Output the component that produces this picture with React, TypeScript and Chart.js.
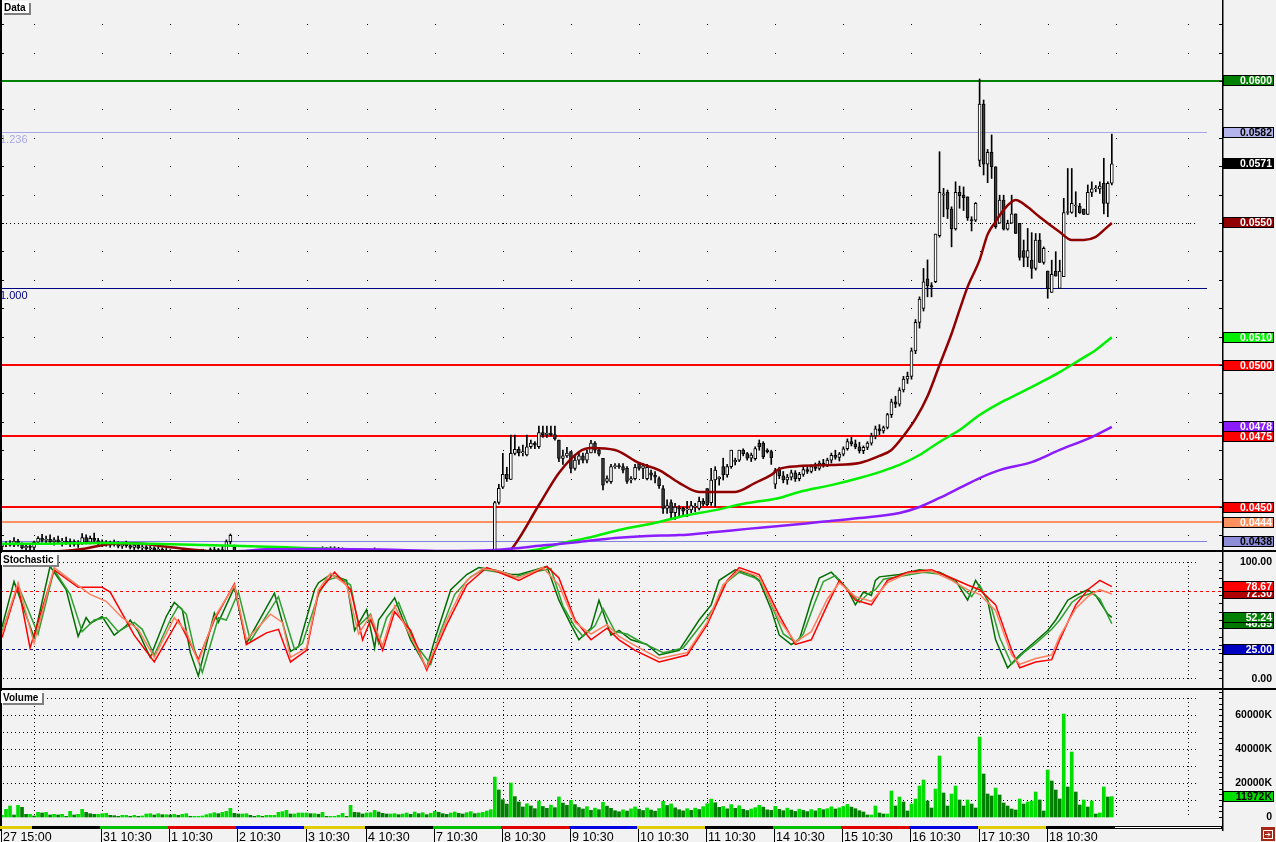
import { useEffect, useRef } from 'react';
import { Chart, registerables } from 'chart.js';

Chart.register(...registerables);

// ---------------- sessions / time axis ----------------
const SESSION_DAYS = ['27', '28', '31', '1', '2', '3', '4', '7', '8', '9', '10', '11', '14', '15', '16', '17', '18'];
const SESSION_FIRST_TIME = ['15:00', '10:30', '10:30', '10:30', '10:30', '10:30', '10:30', '10:30', '10:30', '10:30', '10:30', '10:30', '10:30', '10:30', '10:30', '10:30', '10:30'];
const SESSION_BARS = [8, 17, 17, 17, 17, 15, 17, 17, 17, 17, 17, 17, 17, 17, 17, 17, 17];
const AXIS_LABELS = ['27 15:00', '31 10:30', '1 10:30', '2 10:30', '3 10:30', '4 10:30', '7 10:30', '8 10:30', '9 10:30', '10 10:30', '11 10:30', '14 10:30', '15 10:30', '16 10:30', '17 10:30', '18 10:30'];
const STRIP_COLORS = ['#e0cc00', '#000000', '#00c000', '#e00000', '#0000e0'];
const FUTURE_SLOTS = 27;
const FUTURE_GRID = [278, 296];

// ---------------- price (OHLC) ----------------
const OPEN = [
  0.04360, 0.04368, 0.04372, 0.04366, 0.04380, 0.04368, 0.04356, 0.04362,
  0.04358, 0.04376, 0.04390, 0.04382, 0.04386, 0.04378, 0.04384, 0.04376, 0.04380, 0.04372, 0.04378, 0.04368, 0.04374, 0.04392, 0.04376, 0.04390, 0.04382,
  0.04370, 0.04376, 0.04366, 0.04372, 0.04368, 0.04362, 0.04370, 0.04364, 0.04358, 0.04366, 0.04356, 0.04360, 0.04352, 0.04356, 0.04348, 0.04352, 0.04344,
  0.04340, 0.04336, 0.04332, 0.04338, 0.04334, 0.04330, 0.04326, 0.04332, 0.04328, 0.04330, 0.04340, 0.04350, 0.04344, 0.04350, 0.04346, 0.04378, 0.04360,
  0.04336, 0.04326, 0.04330, 0.04322, 0.04328, 0.04320, 0.04324, 0.04318, 0.04326, 0.04322, 0.04316, 0.04320, 0.04326, 0.04330, 0.04324, 0.04328, 0.04322,
  0.04326, 0.04330, 0.04336, 0.04340, 0.04344, 0.04352, 0.04346, 0.04354, 0.04348, 0.04352, 0.04340, 0.04332, 0.04326, 0.04320, 0.04326,
  0.04330, 0.04336, 0.04344, 0.04340, 0.04334, 0.04328, 0.04322, 0.04326, 0.04318, 0.04322, 0.04316, 0.04320, 0.04314, 0.04318, 0.04312, 0.04316, 0.04310,
  0.04314, 0.04308, 0.04312, 0.04306, 0.04310, 0.04304, 0.04308, 0.04302, 0.04306, 0.04300, 0.04304, 0.04298, 0.04302, 0.04296, 0.04300, 0.04304, 0.04516,
  0.04570, 0.04615, 0.04597, 0.04689, 0.04703, 0.04690, 0.04683, 0.04712, 0.04725, 0.04712, 0.04762, 0.04755, 0.04760, 0.04755, 0.04736, 0.04671, 0.04680,
  0.04695, 0.04636, 0.04665, 0.04680, 0.04665, 0.04690, 0.04725, 0.04700, 0.04671, 0.04590, 0.04589, 0.04642, 0.04646, 0.04642, 0.04636, 0.04595, 0.04600,
  0.04653, 0.04636, 0.04600, 0.04620, 0.04612, 0.04600, 0.04565, 0.04495, 0.04516, 0.04480, 0.04495, 0.04495, 0.04490, 0.04490, 0.04500, 0.04495, 0.04520,
  0.04565, 0.04515, 0.04595, 0.04600, 0.04642, 0.04613, 0.04642, 0.04660, 0.04665, 0.04700, 0.04688, 0.04672, 0.04670, 0.04724, 0.04724, 0.04700, 0.04695,
  0.04580, 0.04630, 0.04610, 0.04595, 0.04605, 0.04620, 0.04600, 0.04615, 0.04632, 0.04625, 0.04642, 0.04636, 0.04655, 0.04648, 0.04665, 0.04682, 0.04675,
  0.04686, 0.04705, 0.04730, 0.04722, 0.04712, 0.04698, 0.04710, 0.04725, 0.04750, 0.04775, 0.04768, 0.04780, 0.04825, 0.04870, 0.04862, 0.04912, 0.04950,
  0.04960, 0.05050, 0.05150, 0.05199, 0.05303, 0.05280, 0.05293, 0.05455, 0.05598, 0.05608, 0.05549, 0.05479, 0.05608, 0.05598, 0.05592, 0.05512, 0.05510,
  0.05720, 0.05919, 0.05707, 0.05749, 0.05698, 0.05499, 0.05581, 0.05478, 0.05499, 0.05532, 0.05499, 0.05403, 0.05379, 0.05369, 0.05340, 0.05440, 0.05361,
  0.05331, 0.05256, 0.05331, 0.05270, 0.05311, 0.05537, 0.05537, 0.05560, 0.05560, 0.05549, 0.05530, 0.05608, 0.05620, 0.05620, 0.05640, 0.05569, 0.05640,
];
const HIGH = [
  0.04372, 0.04378, 0.04382, 0.04392, 0.04386, 0.04374, 0.04366, 0.04368,
  0.04380, 0.04396, 0.04404, 0.04398, 0.04402, 0.04392, 0.04398, 0.04390, 0.04394, 0.04388, 0.04384, 0.04382, 0.04406, 0.04402, 0.04398, 0.04408, 0.04390,
  0.04384, 0.04382, 0.04380, 0.04384, 0.04378, 0.04376, 0.04380, 0.04374, 0.04372, 0.04370, 0.04366, 0.04364, 0.04362, 0.04360, 0.04358, 0.04356, 0.04354,
  0.04350, 0.04346, 0.04344, 0.04352, 0.04342, 0.04340, 0.04338, 0.04340, 0.04336, 0.04346, 0.04356, 0.04358, 0.04354, 0.04362, 0.04384, 0.04405, 0.04366,
  0.04344, 0.04338, 0.04340, 0.04334, 0.04336, 0.04330, 0.04334, 0.04330, 0.04336, 0.04332, 0.04328, 0.04332, 0.04338, 0.04340, 0.04336, 0.04338, 0.04334,
  0.04338, 0.04342, 0.04348, 0.04352, 0.04360, 0.04358, 0.04360, 0.04360, 0.04358, 0.04356, 0.04348, 0.04340, 0.04336, 0.04332, 0.04338,
  0.04342, 0.04350, 0.04356, 0.04352, 0.04344, 0.04338, 0.04334, 0.04336, 0.04330, 0.04332, 0.04328, 0.04330, 0.04326, 0.04328, 0.04324, 0.04326, 0.04322,
  0.04324, 0.04320, 0.04322, 0.04318, 0.04320, 0.04316, 0.04318, 0.04314, 0.04316, 0.04312, 0.04314, 0.04310, 0.04312, 0.04308, 0.04310, 0.04520, 0.04580,
  0.04689, 0.04640, 0.04753, 0.04753, 0.04712, 0.04718, 0.04753, 0.04736, 0.04730, 0.04785, 0.04785, 0.04785, 0.04785, 0.04785, 0.04736, 0.04700, 0.04710,
  0.04695, 0.04680, 0.04690, 0.04690, 0.04700, 0.04735, 0.04730, 0.04710, 0.04671, 0.04610, 0.04650, 0.04653, 0.04653, 0.04653, 0.04642, 0.04607, 0.04650,
  0.04653, 0.04653, 0.04650, 0.04630, 0.04625, 0.04606, 0.04575, 0.04525, 0.04525, 0.04513, 0.04505, 0.04500, 0.04520, 0.04520, 0.04513, 0.04535, 0.04530,
  0.04565, 0.04636, 0.04642, 0.04607, 0.04672, 0.04650, 0.04700, 0.04672, 0.04700, 0.04705, 0.04692, 0.04690, 0.04712, 0.04736, 0.04730, 0.04705, 0.04700,
  0.04636, 0.04640, 0.04625, 0.04615, 0.04630, 0.04628, 0.04622, 0.04640, 0.04645, 0.04648, 0.04655, 0.04662, 0.04668, 0.04672, 0.04690, 0.04700, 0.04692,
  0.04712, 0.04740, 0.04745, 0.04736, 0.04728, 0.04715, 0.04730, 0.04760, 0.04785, 0.04790, 0.04785, 0.04830, 0.04880, 0.04890, 0.04920, 0.04960, 0.04975,
  0.05060, 0.05160, 0.05240, 0.05340, 0.05370, 0.05290, 0.05461, 0.05751, 0.05622, 0.05616, 0.05557, 0.05645, 0.05630, 0.05627, 0.05592, 0.05522, 0.05572,
  0.06007, 0.05933, 0.05759, 0.05810, 0.05698, 0.05598, 0.05598, 0.05510, 0.05598, 0.05532, 0.05499, 0.05440, 0.05481, 0.05466, 0.05463, 0.05463, 0.05416,
  0.05331, 0.05369, 0.05399, 0.05369, 0.05587, 0.05692, 0.05692, 0.05610, 0.05569, 0.05549, 0.05634, 0.05645, 0.05632, 0.05645, 0.05728, 0.05645, 0.05813,
];
const LOW = [
  0.04350, 0.04360, 0.04362, 0.04360, 0.04362, 0.04352, 0.04345, 0.04350,
  0.04350, 0.04370, 0.04376, 0.04372, 0.04374, 0.04366, 0.04372, 0.04362, 0.04368, 0.04360, 0.04362, 0.04358, 0.04368, 0.04370, 0.04370, 0.04376, 0.04364,
  0.04360, 0.04362, 0.04358, 0.04362, 0.04356, 0.04354, 0.04358, 0.04352, 0.04350, 0.04352, 0.04346, 0.04346, 0.04342, 0.04340, 0.04338, 0.04336, 0.04334,
  0.04330, 0.04326, 0.04322, 0.04330, 0.04324, 0.04320, 0.04318, 0.04322, 0.04318, 0.04324, 0.04334, 0.04338, 0.04336, 0.04340, 0.04340, 0.04370, 0.04330,
  0.04320, 0.04316, 0.04318, 0.04312, 0.04316, 0.04310, 0.04314, 0.04308, 0.04316, 0.04312, 0.04306, 0.04310, 0.04316, 0.04318, 0.04314, 0.04316, 0.04312,
  0.04316, 0.04320, 0.04326, 0.04330, 0.04336, 0.04338, 0.04340, 0.04342, 0.04338, 0.04334, 0.04326, 0.04318, 0.04314, 0.04310, 0.04316,
  0.04320, 0.04328, 0.04334, 0.04330, 0.04322, 0.04316, 0.04312, 0.04314, 0.04306, 0.04310, 0.04304, 0.04308, 0.04302, 0.04306, 0.04300, 0.04304, 0.04298,
  0.04302, 0.04296, 0.04300, 0.04294, 0.04298, 0.04292, 0.04296, 0.04290, 0.04294, 0.04288, 0.04292, 0.04286, 0.04290, 0.04284, 0.04288, 0.04300, 0.04510,
  0.04565, 0.04590, 0.04597, 0.04683, 0.04680, 0.04680, 0.04680, 0.04706, 0.04705, 0.04706, 0.04745, 0.04745, 0.04750, 0.04735, 0.04660, 0.04650, 0.04675,
  0.04620, 0.04630, 0.04650, 0.04655, 0.04655, 0.04690, 0.04690, 0.04680, 0.04560, 0.04585, 0.04583, 0.04636, 0.04636, 0.04620, 0.04583, 0.04585, 0.04595,
  0.04630, 0.04600, 0.04595, 0.04595, 0.04585, 0.04565, 0.04477, 0.04477, 0.04456, 0.04456, 0.04466, 0.04466, 0.04466, 0.04480, 0.04483, 0.04490, 0.04505,
  0.04505, 0.04506, 0.04500, 0.04577, 0.04595, 0.04605, 0.04636, 0.04648, 0.04660, 0.04680, 0.04665, 0.04660, 0.04665, 0.04700, 0.04670, 0.04690, 0.04650,
  0.04565, 0.04600, 0.04585, 0.04580, 0.04595, 0.04590, 0.04592, 0.04608, 0.04618, 0.04620, 0.04628, 0.04630, 0.04640, 0.04642, 0.04655, 0.04668, 0.04662,
  0.04680, 0.04700, 0.04715, 0.04705, 0.04690, 0.04688, 0.04702, 0.04718, 0.04740, 0.04755, 0.04760, 0.04775, 0.04815, 0.04850, 0.04855, 0.04905, 0.04935,
  0.04950, 0.05040, 0.05130, 0.05190, 0.05240, 0.05240, 0.05290, 0.05450, 0.05522, 0.05516, 0.05416, 0.05475, 0.05552, 0.05544, 0.05509, 0.05472, 0.05505,
  0.05700, 0.05669, 0.05642, 0.05657, 0.05481, 0.05499, 0.05475, 0.05475, 0.05499, 0.05463, 0.05369, 0.05346, 0.05346, 0.05305, 0.05334, 0.05361, 0.05355,
  0.05235, 0.05256, 0.05313, 0.05270, 0.05311, 0.05530, 0.05534, 0.05522, 0.05534, 0.05530, 0.05530, 0.05593, 0.05610, 0.05604, 0.05532, 0.05522, 0.05634,
];
const CLOSE = [
  0.04368, 0.04372, 0.04366, 0.04380, 0.04368, 0.04356, 0.04362, 0.04358,
  0.04376, 0.04390, 0.04382, 0.04386, 0.04378, 0.04384, 0.04376, 0.04380, 0.04372, 0.04378, 0.04368, 0.04374, 0.04392, 0.04376, 0.04390, 0.04382, 0.04370,
  0.04376, 0.04366, 0.04372, 0.04368, 0.04362, 0.04370, 0.04364, 0.04358, 0.04366, 0.04356, 0.04360, 0.04352, 0.04356, 0.04348, 0.04352, 0.04344, 0.04340,
  0.04336, 0.04332, 0.04338, 0.04334, 0.04330, 0.04326, 0.04332, 0.04328, 0.04330, 0.04340, 0.04350, 0.04344, 0.04350, 0.04346, 0.04378, 0.04400, 0.04336,
  0.04326, 0.04330, 0.04322, 0.04328, 0.04320, 0.04324, 0.04318, 0.04326, 0.04322, 0.04316, 0.04320, 0.04326, 0.04330, 0.04324, 0.04328, 0.04322, 0.04326,
  0.04330, 0.04336, 0.04340, 0.04344, 0.04352, 0.04346, 0.04354, 0.04348, 0.04352, 0.04340, 0.04332, 0.04326, 0.04320, 0.04326, 0.04330,
  0.04336, 0.04344, 0.04340, 0.04334, 0.04328, 0.04322, 0.04326, 0.04318, 0.04322, 0.04316, 0.04320, 0.04314, 0.04318, 0.04312, 0.04316, 0.04310, 0.04314,
  0.04308, 0.04312, 0.04306, 0.04310, 0.04304, 0.04308, 0.04302, 0.04306, 0.04300, 0.04304, 0.04298, 0.04302, 0.04296, 0.04300, 0.04304, 0.04516, 0.04566,
  0.04615, 0.04600, 0.04689, 0.04703, 0.04690, 0.04695, 0.04712, 0.04725, 0.04718, 0.04762, 0.04755, 0.04760, 0.04755, 0.04740, 0.04671, 0.04680, 0.04690,
  0.04636, 0.04665, 0.04680, 0.04665, 0.04690, 0.04725, 0.04700, 0.04686, 0.04577, 0.04600, 0.04642, 0.04646, 0.04642, 0.04630, 0.04590, 0.04600, 0.04640,
  0.04636, 0.04645, 0.04640, 0.04612, 0.04605, 0.04575, 0.04495, 0.04505, 0.04480, 0.04500, 0.04492, 0.04485, 0.04492, 0.04505, 0.04502, 0.04520, 0.04510,
  0.04507, 0.04595, 0.04630, 0.04605, 0.04613, 0.04642, 0.04700, 0.04664, 0.04700, 0.04688, 0.04672, 0.04683, 0.04706, 0.04712, 0.04677, 0.04695, 0.04674,
  0.04630, 0.04610, 0.04595, 0.04605, 0.04620, 0.04600, 0.04615, 0.04632, 0.04625, 0.04642, 0.04636, 0.04655, 0.04648, 0.04665, 0.04682, 0.04675, 0.04686,
  0.04705, 0.04730, 0.04722, 0.04712, 0.04698, 0.04710, 0.04725, 0.04750, 0.04775, 0.04768, 0.04780, 0.04825, 0.04870, 0.04862, 0.04912, 0.04950, 0.04960,
  0.05050, 0.05150, 0.05232, 0.05293, 0.05279, 0.05276, 0.05461, 0.05608, 0.05603, 0.05549, 0.05479, 0.05608, 0.05596, 0.05589, 0.05519, 0.05508, 0.05569,
  0.05919, 0.05707, 0.05749, 0.05698, 0.05487, 0.05581, 0.05478, 0.05499, 0.05532, 0.05463, 0.05379, 0.05379, 0.05403, 0.05340, 0.05440, 0.05361, 0.05411,
  0.05270, 0.05319, 0.05313, 0.05331, 0.05537, 0.05540, 0.05569, 0.05562, 0.05536, 0.05530, 0.05608, 0.05620, 0.05622, 0.05630, 0.05569, 0.05640, 0.05708,
];

// ---------------- volume (thousands) ----------------
const VOLUME_K = [
  980, 4510, 6470, 1180, 6860, 5680, 1570, 1570, 590, 2740, 2350, 2740, 1180, 1570, 1180, 1570, 390, 3330, 1180, 1570,
  4510, 2740, 1960, 1570, 1570, 1960, 2160, 980, 780, 390, 980, 980, 390, 980, 390, 590, 1760, 1960, 1180, 1960,
  1370, 1370, 1180, 1570, 980, 1570, 1960, 390, 390, 390, 590, 1370, 1960, 2550, 1960, 2740, 3330, 5100, 2160, 1760,
  1760, 1960, 980, 390, 980, 390, 980, 980, 980, 2740, 3140, 3920, 1760, 1760, 2350, 2350, 2350, 1960, 1960, 1570,
  2740, 390, 390, 390, 980, 2160, 390, 6860, 2740, 2550, 1760, 2350, 2550, 3920, 2940, 2160, 1760, 1760, 1960, 1370,
  1760, 2350, 1570, 2940, 1960, 2550, 1370, 2160, 3330, 2740, 1960, 1570, 2350, 2940, 2160, 1760, 2550, 3140, 1960, 2350, 2740, 3530, 4310,
  23500, 15900, 10200, 7600, 20000, 12000, 8800, 5900, 7800, 6500, 4900, 9400, 6200, 5100, 7000, 5500, 11800, 8200, 6900,
  9800, 7300, 5600, 4700, 6100, 3900, 5200, 4300, 8600, 6400, 5100, 3700, 3100, 4200, 3500, 4800, 5900,
  4600, 3800, 5300, 4100, 3400, 5000, 9200, 6800, 7700, 5400, 4300, 3600, 4900, 3900, 5200, 4400, 6100,
  7800, 10500, 8400, 5700, 6200, 4800, 7300, 5100, 6600, 4500, 3800, 4700, 5500, 6900, 5800, 4200, 3900,
  6300, 4500, 3700, 5200, 4100, 3300, 4600, 3900, 3200, 4400, 3600, 5100, 4300, 4900, 6000, 4700, 5400,
  6200, 7400, 5800, 4900, 3700,
  2940, 1180, 1180, 6470, 2350, 1760, 1760, 15290, 6470, 11760, 8820, 3530, 7640, 10580, 18230, 21760, 9410, 5290, 16460, 35870,
  14110, 6470, 13520, 18230, 10000, 6470, 10000, 7640, 5290, 47040, 25280, 13520, 12350, 17050, 12940, 8230, 6470, 4700, 4120, 10580,
  7640, 8820, 9410, 14700, 10000, 3530, 27640, 21170, 15880, 10580, 60560, 17640, 38220, 14700, 7060, 10000, 5880, 9410, 1760, 2350,
  17640, 11760, 11972,
];

// ---------------- moving averages [bar, price] ----------------
const MA_FAST = [
  [0, 0.04340], [15, 0.04345], [20, 0.04352], [27, 0.04370], [33, 0.04372], [40, 0.04362], [46, 0.04352], [55, 0.04340], [70, 0.04320],
  [100, 0.04300], [122, 0.04300], [127, 0.04349], [134, 0.04507], [139, 0.04620], [144, 0.04694], [147, 0.04708], [153, 0.04701],
  [159, 0.04655], [164, 0.04630], [169, 0.04585], [174, 0.04553], [183, 0.04553], [188, 0.04585], [192, 0.04613], [194, 0.04634],
  [199, 0.04644], [207, 0.04648], [214, 0.04655], [219, 0.04680], [222, 0.04701], [225, 0.04750], [228, 0.04810], [231, 0.04890],
  [234, 0.05000], [237, 0.05110], [239, 0.05194], [241, 0.05275], [244, 0.05370], [246, 0.05460], [248, 0.05505], [250, 0.05546],
  [253, 0.05581], [256, 0.05556], [259, 0.05521], [264, 0.05468], [267, 0.05440], [270, 0.05440], [273, 0.05451], [275, 0.05475], [277, 0.05500],
];
const MA_MID = [
  [0, 0.04371], [12, 0.04371], [25, 0.04373], [37, 0.04371], [50, 0.04366], [62, 0.04362], [75, 0.04356], [90, 0.04349], [110, 0.04340],
  [125, 0.04340], [133, 0.04349], [140, 0.04373], [147, 0.04394], [154, 0.04419], [159, 0.04433], [164, 0.04447], [169, 0.04465],
  [178, 0.04489], [186, 0.04514], [194, 0.04532], [199, 0.04553], [207, 0.04577], [214, 0.04602], [219, 0.04623], [224, 0.04648],
  [229, 0.04683], [234, 0.04729], [239, 0.04771], [244, 0.04824], [249, 0.04866], [254, 0.04901], [259, 0.04937], [264, 0.04975],
  [269, 0.05018], [273, 0.05053], [277, 0.05098],
];
const MA_SLOW = [
  [0, 0.04330], [60, 0.04345], [66, 0.04351], [80, 0.04352], [95, 0.04350], [110, 0.04345], [123, 0.04349], [136, 0.04366],
  [144, 0.04377], [153, 0.04391], [161, 0.04398], [169, 0.04401], [178, 0.04412], [186, 0.04423], [194, 0.04433], [204, 0.04447],
  [214, 0.04461], [224, 0.04479], [229, 0.04500], [234, 0.04532], [239, 0.04567], [244, 0.04602], [249, 0.04630], [257, 0.04658],
  [264, 0.04701], [272, 0.04746], [277, 0.04782],
];

// ---------------- stochastic [bar, value] ----------------
const STOCH_K_FAST = [
  [0, 44], [3, 83], [8, 35], [12, 96], [16, 76], [19, 36], [21, 52], [22, 47], [25, 53], [28, 37], [31, 45], [32, 50], [34, 40], [37, 18],
  [41, 53], [43, 65], [45, 59], [47, 22], [49, 2], [53, 56], [54, 48], [58, 78], [61, 30], [68, 73], [72, 23], [74, 27], [78, 76], [79, 82],
  [82, 89], [86, 84], [88, 41], [91, 59], [93, 26], [94, 50], [98, 69], [102, 33], [106, 9], [108, 33], [112, 76], [116, 89], [119, 95],
  [123, 93], [127, 89], [129, 89], [133, 93], [136, 96], [139, 67], [142, 46], [144, 33], [147, 43], [149, 67], [152, 37], [154, 41],
  [157, 33], [161, 29], [164, 20], [169, 24], [174, 50], [177, 63], [179, 84], [183, 93], [187, 89], [189, 84], [192, 59], [194, 37],
  [197, 29], [199, 33], [202, 67], [204, 86], [207, 91], [211, 76], [213, 63], [215, 74], [217, 71], [218, 84], [219, 87], [224, 89],
  [229, 93], [234, 91], [238, 84], [241, 67], [243, 84], [246, 67], [248, 33], [251, 9], [254, 20], [257, 29], [261, 41], [263, 50],
  [266, 67], [268, 71], [271, 76], [273, 71], [276, 55], [277, 52.24],
];
const STOCH_K_SLOW = [
  [0, 40], [4, 80], [9, 38], [13, 93], [17, 72], [20, 40], [23, 50], [26, 52], [29, 40], [33, 48], [35, 42], [38, 20], [42, 50], [44, 62],
  [46, 55], [48, 25], [50, 5], [54, 52], [56, 50], [59, 74], [62, 32], [69, 70], [73, 25], [75, 30], [79, 72], [81, 84], [84, 87], [87, 80],
  [89, 45], [92, 55], [94, 30], [96, 52], [99, 65], [103, 30], [107, 12], [109, 36], [113, 72], [117, 87], [120, 93], [124, 91], [128, 87],
  [131, 90], [134, 92], [137, 94], [140, 62], [143, 44], [145, 36], [148, 45], [150, 60], [153, 40], [156, 38], [159, 32], [162, 27],
  [165, 22], [170, 26], [175, 48], [178, 62], [180, 80], [184, 91], [188, 86], [190, 80], [193, 55], [195, 38], [198, 31], [200, 38],
  [203, 66], [205, 83], [208, 88], [212, 73], [214, 65], [216, 72], [218, 76], [220, 85], [225, 88], [230, 91], [235, 89], [239, 80],
  [242, 70], [244, 80], [247, 60], [249, 35], [252, 12], [255, 22], [258, 30], [262, 42], [264, 50], [267, 65], [269, 70], [272, 73],
  [274, 68], [277, 46.85],
];
const STOCH_D_FAST = [
  [0, 35], [4, 80], [7, 26], [13, 93], [19, 78], [25, 78], [27, 74], [33, 37], [38, 14], [44, 50], [49, 16], [53, 50], [58, 81], [61, 29],
  [66, 39], [69, 42], [72, 14], [76, 24], [79, 74], [83, 91], [87, 76], [90, 33], [92, 50], [95, 24], [98, 57], [102, 41], [106, 7],
  [111, 46], [116, 80], [121, 95], [124, 91], [129, 84], [136, 96], [139, 86], [143, 50], [147, 33], [151, 43], [154, 33], [158, 24],
  [164, 14], [171, 20], [176, 46], [181, 84], [184, 95], [189, 89], [194, 54], [198, 29], [202, 33], [206, 63], [209, 84], [213, 67],
  [217, 63], [221, 84], [226, 91], [232, 93], [237, 86], [241, 80], [244, 76], [248, 63], [252, 24], [254, 9], [258, 14], [262, 16],
  [264, 33], [268, 63], [271, 76], [274, 84], [277, 78.67],
];
const STOCH_D_SLOW = [
  [0, 38], [4, 82], [8, 30], [13, 95], [18, 82], [22, 72], [26, 66], [30, 52], [34, 42], [38, 18], [43, 52], [46, 40], [49, 14], [53, 52],
  [58, 80], [61, 33], [67, 55], [70, 48], [72, 18], [76, 26], [79, 76], [82, 90], [86, 80], [89, 38], [92, 54], [95, 28], [98, 62],
  [102, 36], [106, 9], [111, 50], [116, 84], [120, 94], [124, 92], [129, 86], [135, 95], [139, 80], [143, 48], [147, 38], [151, 46],
  [154, 36], [158, 28], [164, 17], [171, 22], [176, 48], [180, 80], [184, 93], [189, 87], [194, 50], [198, 31], [202, 40], [206, 68],
  [209, 82], [213, 70], [217, 66], [221, 82], [226, 90], [232, 92], [237, 84], [241, 76], [244, 72], [248, 58], [252, 20], [254, 12],
  [258, 17], [262, 20], [264, 36], [268, 60], [271, 70], [274, 76], [277, 72.3],
];

// ---------------- annotation levels ----------------
const PRICE_LEVELS = [
  { value: 0.0600, color: '#008000', width: 2, badge: '0.0600', bg: '#008000', fg: '#ffffff' },
  { value: 0.0582, color: '#a8a8e8', width: 1, endX: 1207, badge: '0.0582', bg: '#b4b4ec', fg: '#000000', tag: '1.236' },
  { value: 0.0550, color: '#000000', width: 1, endX: 1196, dotted: true },
  { value: 0.05271, color: '#000080', width: 1, endX: 1207, tag: '1.000' },
  { value: 0.0500, color: '#ff0000', width: 2, badge: '0.0500', bg: '#ff0000', fg: '#ffffff' },
  { value: 0.0475, color: '#ff0000', width: 2, badge: '0.0475', bg: '#ff0000', fg: '#ffffff' },
  { value: 0.0450, color: '#ff0000', width: 2, badge: '0.0450', bg: '#ff0000', fg: '#ffffff' },
  { value: 0.04447, color: '#ff9060', width: 2, badge: '0.0444', bg: '#ff9060', fg: '#ffffff' },
  { value: 0.0438, color: '#8080e0', width: 1, endX: 1207, badge: '0.0438', bg: '#8c8cd8', fg: '#000000' },
];
const PRICE_RANGE = [0.043486, 0.062852];
const PRICE_GRID = [0.044, 0.062, 0.001];
const STOCH_RANGE = [-8.32, 108.32];
const STOCH_LEVELS = [75, 25];
const VOLUME_RANGE = [-5294, 74706];
const VOLUME_GRID = [10000, 70000, 10000];
const VOLUME_LABELS = [0, 20000, 40000, 60000];

// ---------------- derived ----------------
const SESSION_START: number[] = [];
{
  let acc = 0;
  for (const n of SESSION_BARS) { SESSION_START.push(acc); acc += n; }
}
const BAR_COUNT = OPEN.length;
const X_MAX = BAR_COUNT + FUTURE_SLOTS - 0.5;
const GRID_BARS = [...SESSION_START.slice(1), ...FUTURE_GRID];

const AXIS_FONT = 'bold 10.5px "Liberation Sans", Arial, sans-serif';
const TITLE_FONT = 'bold 10px "Liberation Sans", Arial, sans-serif';
const RIGHT_PAD = 54;
const AXIS_X = 1222;

function drawTitle(ctx: any, text: string, x: number, y: number) {
  ctx.font = TITLE_FONT;
  const w = Math.ceil(ctx.measureText(text).width) + 5;
  ctx.fillStyle = '#808080';
  ctx.fillRect(x + 2, y + 2, w, 12);
  ctx.fillStyle = '#ffffff';
  ctx.fillRect(x, y, w, 12);
  ctx.fillStyle = '#000000';
  ctx.textAlign = 'left';
  ctx.textBaseline = 'alphabetic';
  ctx.fillText(text, x + 2, y + 10);
}

function drawBadge(ctx: any, yPix: number, text: string, bg: string, fg: string) {
  const x = 1223, w = 51, h = 11;
  const top = Math.round(yPix - h / 2);
  ctx.fillStyle = bg;
  ctx.fillRect(x, top, w, h);
  ctx.strokeStyle = '#000000';
  ctx.lineWidth = 1;
  ctx.strokeRect(x + 0.5, top + 0.5, w - 1, h - 1);
  ctx.fillStyle = fg;
  ctx.font = AXIS_FONT;
  ctx.textAlign = 'right';
  ctx.textBaseline = 'middle';
  ctx.fillText(text, 1272, top + h / 2 + 0.5);
}

function drawAxisText(ctx: any, yPix: number, text: string) {
  ctx.fillStyle = '#000000';
  ctx.font = AXIS_FONT;
  ctx.textAlign = 'right';
  ctx.textBaseline = 'middle';
  ctx.fillText(text, 1272, yPix + 0.5);
}

function dotsH(ctx: any, x0: number, x1: number, y: number) {
  for (let x = x0; x < x1; x += 4) ctx.fillRect(x, y, 1, 1);
}
function dotsV(ctx: any, x: number, y0: number, y1: number) {
  for (let y = y0; y <= y1; y += 4) ctx.fillRect(x, y, 1, 1);
}
function frame(ctx: any, h: number) {
  ctx.fillStyle = '#000000';
  ctx.fillRect(0, 0, 2, h);
  ctx.fillRect(AXIS_X, 0, 1.5, h);
}

const pricePanel = {
  id: 'pricePanel',
  beforeDatasetsDraw(chart: any) {
    const { ctx, chartArea: a, scales } = chart;
    const x = scales.x, y = scales.y;
    ctx.save();
    ctx.fillStyle = '#000000';
    const [g0, g1, gs] = PRICE_GRID;
    for (let k = 0; g0 + k * gs <= g1 + 1e-9; k++) {
      const yy = Math.round(y.getPixelForValue(g0 + k * gs));
      ctx.fillRect(2, yy, 2, 1);
      for (const gi of GRID_BARS) ctx.fillRect(Math.round(x.getPixelForValue(gi)), yy, 1, 1);
    }
    for (const L of PRICE_LEVELS as any[]) {
      const yy = y.getPixelForValue(L.value);
      const xEnd = L.endX ?? a.right;
      ctx.fillStyle = L.color;
      if (L.dotted) {
        dotsH(ctx, 2, xEnd, Math.round(yy));
      } else {
        ctx.fillRect(0, Math.round(yy - L.width / 2), xEnd, L.width);
      }
      if (L.tag) {
        ctx.font = '11px "Liberation Sans", Arial, sans-serif';
        ctx.textAlign = 'left';
        ctx.textBaseline = 'top';
        ctx.fillText(L.tag, 0, Math.round(yy) + 2);
      }
    }
    ctx.restore();
  },
  afterDraw(chart: any) {
    const { ctx, scales } = chart;
    const y = scales.y;
    ctx.save();
    ctx.fillStyle = '#f2f2f2';
    ctx.fillRect(AXIS_X, 0, 1276 - AXIS_X, 550);
    frame(ctx, 552);
    ctx.fillStyle = '#000000';
    ctx.fillRect(0, 550, 1276, 2);
    const [g0, g1, gs] = PRICE_GRID;
    for (let k = 0; g0 + k * gs <= g1 + 1e-9; k++) {
      const yy = Math.round(y.getPixelForValue(g0 + k * gs));
      ctx.fillRect(AXIS_X - 3, yy, 3, 1);
    }
    drawTitle(ctx, 'Data', 2, 1);
    for (const L of PRICE_LEVELS as any[]) {
      if (L.badge) drawBadge(ctx, y.getPixelForValue(L.value), L.badge, L.bg, L.fg);
    }
    const last = BAR_COUNT - 1;
    drawBadge(ctx, y.getPixelForValue(CLOSE[last]), CLOSE[last].toFixed(4), '#000000', '#ffffff');
    const mf = MA_FAST[MA_FAST.length - 1][1];
    const mm = MA_MID[MA_MID.length - 1][1];
    const ms = MA_SLOW[MA_SLOW.length - 1][1];
    drawBadge(ctx, y.getPixelForValue(mf), mf.toFixed(4), '#900000', '#ffffff');
    drawBadge(ctx, y.getPixelForValue(mm), mm.toFixed(4), '#00f000', '#ffffff');
    drawBadge(ctx, y.getPixelForValue(ms), ms.toFixed(4), '#8a1cff', '#ffffff');
    ctx.restore();
  },
};

const STOCH_SERIES = [
  { data: STOCH_D_SLOW, color: '#ff8060', badge: '#b00000' },
  { data: STOCH_D_FAST, color: '#ff0000', badge: '#ff0000' },
  { data: STOCH_K_SLOW, color: '#2f9f2f', badge: '#007800' },
  { data: STOCH_K_FAST, color: '#006e00', badge: '#008000' },
];

const stochPanel = {
  id: 'stochPanel',
  beforeDatasetsDraw(chart: any) {
    const { ctx, scales } = chart;
    const x = scales.x, y = scales.y;
    ctx.save();
    ctx.fillStyle = '#000000';
    const y100 = Math.round(y.getPixelForValue(100));
    const y0 = Math.round(y.getPixelForValue(0));
    dotsH(ctx, 3, 1196, y100);
    dotsH(ctx, 3, 1196, y0);
    for (const gi of GRID_BARS) dotsV(ctx, Math.round(x.getPixelForValue(gi)), y100, y0);
    ctx.lineWidth = 1;
    ctx.setLineDash([3, 3]);
    const cols = ['#ff0000', '#000090'];
    STOCH_LEVELS.forEach((lv, k) => {
      const yy = Math.round(y.getPixelForValue(lv)) + 0.5;
      ctx.strokeStyle = cols[k];
      ctx.beginPath();
      ctx.moveTo(0, yy);
      ctx.lineTo(AXIS_X, yy);
      ctx.stroke();
    });
    ctx.restore();
  },
  afterDraw(chart: any) {
    const { ctx, scales } = chart;
    const y = scales.y;
    ctx.save();
    ctx.fillStyle = '#f2f2f2';
    ctx.fillRect(AXIS_X, 0, 1276 - AXIS_X, 136);
    frame(ctx, 138);
    ctx.fillStyle = '#000000';
    ctx.fillRect(0, 136, 1276, 2);
    for (let k = 0; k <= 14; k++) {
      ctx.fillRect(AXIS_X - 3, Math.round(y.getPixelForValue((100 * k) / 14)), 3, 1);
    }
    drawTitle(ctx, 'Stochastic', 1, 1);
    drawAxisText(ctx, y.getPixelForValue(100), '100.00');
    drawAxisText(ctx, y.getPixelForValue(0), '0.00');
    for (const s of STOCH_SERIES) {
      const v = s.data[s.data.length - 1][1];
      drawBadge(ctx, y.getPixelForValue(v), v.toFixed(2), s.badge, '#ffffff');
    }
    drawBadge(ctx, y.getPixelForValue(STOCH_LEVELS[1]), STOCH_LEVELS[1].toFixed(2), '#0000c0', '#ffffff');
    ctx.restore();
  },
};

const volumePanel = {
  id: 'volumePanel',
  beforeDatasetsDraw(chart: any) {
    const { ctx, scales } = chart;
    const x = scales.x, y = scales.y;
    ctx.save();
    ctx.fillStyle = '#000000';
    const [v0, v1, vs] = VOLUME_GRID;
    for (let v = v0; v <= v1; v += vs) dotsH(ctx, 3, 1196, Math.round(y.getPixelForValue(v)));
    const yt = Math.round(y.getPixelForValue(v1));
    const yb = Math.round(y.getPixelForValue(0)) - 2;
    for (const gi of GRID_BARS) dotsV(ctx, Math.round(x.getPixelForValue(gi)), yt, yb);
    ctx.restore();
  },
  afterDraw(chart: any) {
    const { ctx, scales, chartArea: a } = chart;
    const x = scales.x, y = scales.y;
    ctx.save();
    ctx.fillStyle = '#f2f2f2';
    ctx.fillRect(AXIS_X, 0, 1276 - AXIS_X, 152);
    frame(ctx, 141);
    ctx.fillStyle = '#000000';
    for (let k = 0; k <= 22; k++) {
      ctx.fillRect(AXIS_X - 3, Math.round(y.getPixelForValue((10000 * k) / 3)), 3, 1);
    }
    drawTitle(ctx, 'Volume', 1, 1);
    for (const v of VOLUME_LABELS) drawAxisText(ctx, y.getPixelForValue(v), v === 0 ? '0' : `${v}K`);
    const lastV = VOLUME_K[VOLUME_K.length - 1];
    drawBadge(ctx, y.getPixelForValue(lastV), `${lastV}K`, '#00e000', '#000000');

    // time axis strip
    const sTop = a.bottom;
    SESSION_START.forEach((st, s) => {
      const x0 = x.getPixelForValue(st - 0.5);
      const x1 = x.getPixelForValue(st + SESSION_BARS[s] - 0.5);
      ctx.fillStyle = STRIP_COLORS[s % STRIP_COLORS.length];
      ctx.fillRect(Math.round(x0), sTop, Math.round(x1) - Math.round(x0), 3);
    });
    const xe = Math.round(x.getPixelForValue(BAR_COUNT - 0.5));
    ctx.fillStyle = '#ffffff';
    ctx.fillRect(xe, sTop, AXIS_X - xe, 3);
    ctx.strokeStyle = '#000000';
    ctx.lineWidth = 1;
    ctx.strokeRect(xe + 0.5, sTop + 0.5, AXIS_X - xe - 1, 2);

    ctx.font = '12.5px "Liberation Sans", Arial, sans-serif';
    ctx.textAlign = 'left';
    ctx.textBaseline = 'alphabetic';
    SESSION_START.forEach((st, s) => {
      const lab = `${SESSION_DAYS[s]} ${SESSION_FIRST_TIME[s]}`;
      if (!AXIS_LABELS.includes(lab)) return;
      const xt = Math.max(1, Math.round(x.getPixelForValue(st)) - 1);
      ctx.fillStyle = '#000000';
      ctx.fillRect(xt, sTop + 3, 1, 152 - sTop - 3);
      ctx.fillText(lab, xt + 2, 151);
    });

    // corner icon
    ctx.fillStyle = '#a82818';
    ctx.fillRect(1261, 137, 14, 14);
    ctx.strokeStyle = '#ffffff';
    ctx.lineWidth = 1;
    ctx.strokeRect(1263.5, 140.5, 9, 8);
    ctx.beginPath();
    ctx.moveTo(1265, 144.5);
    ctx.lineTo(1270, 144.5);
    ctx.moveTo(1268, 142.5);
    ctx.lineTo(1270, 144.5);
    ctx.lineTo(1268, 146.5);
    ctx.stroke();
    ctx.restore();
  },
};

function baseOptions(range: number[], padBottom: number) {
  return {
    responsive: false,
    maintainAspectRatio: false,
    animation: false,
    devicePixelRatio: 1,
    events: [],
    layout: { padding: { left: 0, right: RIGHT_PAD, top: 0, bottom: padBottom } },
    plugins: { legend: { display: false }, tooltip: { enabled: false } },
    scales: {
      x: { type: 'linear', min: -0.5, max: X_MAX, display: false, offset: false },
      y: { type: 'linear', min: range[0], max: range[1], display: false },
    },
  } as any;
}

const maLine = (pts: number[][], color: string) => ({
  type: 'line',
  data: pts.map(([i, v]) => ({ x: i, y: v })),
  borderColor: color,
  borderWidth: 2.5,
  pointRadius: 0,
  cubicInterpolationMode: 'monotone',
  order: 1,
});

export default function App() {
  const priceRef = useRef<HTMLCanvasElement>(null);
  const stochRef = useRef<HTMLCanvasElement>(null);
  const volRef = useRef<HTMLCanvasElement>(null);

  useEffect(() => {
    const charts: Chart[] = [];
    charts.push(
      new Chart(priceRef.current as HTMLCanvasElement, {
        type: 'bar',
        data: {
          datasets: [
            {
              type: 'bar',
              data: HIGH.map((h, i) => ({ x: i, y: [LOW[i], h] })),
              backgroundColor: '#000000',
              barThickness: 1,
              grouped: false,
              order: 3,
            },
            {
              type: 'bar',
              data: OPEN.map((o, i) => ({ x: i, y: [o, CLOSE[i]] })),
              backgroundColor: OPEN.map((o, i) => (CLOSE[i] >= o ? '#ffffff' : '#3c3c3c')),
              borderColor: '#000000',
              borderWidth: 1,
              borderSkipped: false,
              barThickness: 3,
              minBarLength: 1,
              grouped: false,
              order: 2,
            },
            maLine(MA_SLOW, '#8a1cff'),
            maLine(MA_MID, '#00f000'),
            maLine(MA_FAST, '#900000'),
          ] as any,
        },
        options: baseOptions(PRICE_RANGE, 2),
        plugins: [pricePanel],
      } as any)
    );
    charts.push(
      new Chart(stochRef.current as HTMLCanvasElement, {
        type: 'line',
        data: {
          datasets: STOCH_SERIES.map((s) => ({
            data: s.data.map(([i, v]) => ({ x: i, y: v })),
            borderColor: s.color,
            borderWidth: 1.5,
            pointRadius: 0,
            tension: 0,
          })),
        },
        options: baseOptions(STOCH_RANGE, 2),
        plugins: [stochPanel],
      } as any)
    );
    charts.push(
      new Chart(volRef.current as HTMLCanvasElement, {
        type: 'bar',
        data: {
          datasets: [
            {
              data: VOLUME_K.map((v, i) => ({ x: i, y: v })),
              backgroundColor: VOLUME_K.map((v, i) => (i > 0 && v < VOLUME_K[i - 1] ? '#008000' : '#00dd00')),
              barThickness: 3,
              grouped: false,
            },
          ],
        },
        options: baseOptions(VOLUME_RANGE, 16),
        plugins: [volumePanel],
      } as any)
    );
    return () => charts.forEach((c) => c.destroy());
  }, []);

  return (
    <div style={{ position: 'fixed', left: 0, top: 0, width: 1276, height: 842, background: '#f2f2f2', overflow: 'hidden' }}>
      <canvas ref={priceRef} width={1276} height={552} style={{ position: 'absolute', left: 0, top: 0, width: 1276, height: 552 }} />
      <canvas ref={stochRef} width={1276} height={138} style={{ position: 'absolute', left: 0, top: 552, width: 1276, height: 138 }} />
      <canvas ref={volRef} width={1276} height={152} style={{ position: 'absolute', left: 0, top: 690, width: 1276, height: 152 }} />
    </div>
  );
}
